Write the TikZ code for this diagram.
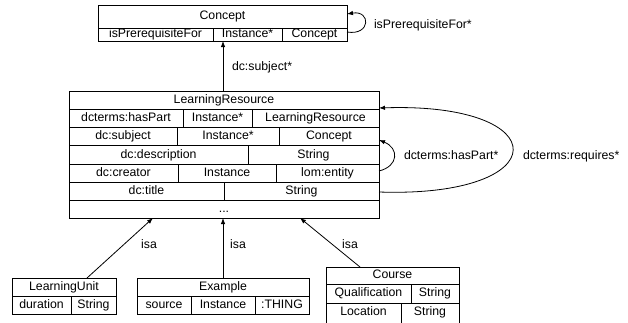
\documentclass[tikz,border=0pt]{standalone}
\usepackage{fontspec}
\setmainfont{Liberation Sans}
\usetikzlibrary{arrows.meta}
\begin{document}
\begin{tikzpicture}[x=1pt,y=-1pt,
  every node/.style={inner sep=0pt,outer sep=0pt,font=\fontsize{12.3}{14}\selectfont,
    text height=8.8pt,text depth=0pt},
  tbl/.style={draw,line width=0.8pt,anchor=north west,text height=,text depth=},
  cell/.style={yshift=1.3pt},
  sep/.style={line width=0.8pt},
  conn/.style={line width=0.8pt,-{Latex[length=6pt,width=4.5pt]}},
  lbl/.style={anchor=west}]
\useasboundingbox (0,0) rectangle (628,322);
\clip (0,0) rectangle (628,322);
% Concept
\node[tbl,minimum width=249pt,minimum height=36pt] (concept) at (98,5) {};
\draw[sep] (98,28) -- (347,28) (213,28) -- (213,41) (282,28) -- (282,41);
\node[cell] (cT) at (222.5,16.5) {Concept};
\node[cell] (c1) at (155.5,34.5) {isPrerequisiteFor};
\node[cell] (c2) at (247.5,34.5) {Instance*};
\node[cell] (c3) at (314.5,34.5) {Concept};
% LearningResource
\node[tbl,minimum width=310pt,minimum height=127pt] (lr) at (69,91) {};
\draw[sep] (69,109) -- (379,109) (69,127) -- (379,127) (69,145.5) -- (379,145.5)
  (69,164) -- (379,164) (69,182) -- (379,182) (69,200) -- (379,200);
\draw[sep] (183,109) -- (183,127) (252,109) -- (252,127)
  (177,127) -- (177,145.5) (279,127) -- (279,145.5)
  (248,145.5) -- (248,164)
  (178,164) -- (178,182) (276,164) -- (276,182)
  (224,182) -- (224,200);
\node[cell] (lrT) at (224,100) {LearningResource};
\node[cell] (r11) at (126,118) {dcterms:hasPart};
\node[cell] (r12) at (217.5,118) {Instance*};
\node[cell] (r13) at (315.5,118) {LearningResource};
\node[cell] (r21) at (123,136.5) {dc:subject};
\node[cell] (r22) at (228,136.5) {Instance*};
\node[cell] (r23) at (329,136.5) {Concept};
\node[cell] (r31) at (158.5,155) {dc:description};
\node[cell] (r32) at (313.5,155) {String};
\node[cell] (r41) at (123.5,173) {dc:creator};
\node[cell] (r42) at (227,173) {Instance};
\node[cell] (r43) at (327.5,173) {lom:entity};
\node[cell] (r51) at (146.5,191) {dc:title};
\node[cell] (r52) at (301.5,191) {String};
\node[cell] (r61) at (224,209) {...};
% LearningUnit
\node[tbl,minimum width=104pt,minimum height=36pt] (lu) at (12,278) {};
\draw[sep] (12,296) -- (116,296) (71,296) -- (71,314);
\node[cell] (luT) at (64,287) {LearningUnit};
\node[cell] (lu1) at (41.5,305) {duration};
\node[cell] (lu2) at (93.5,305) {String};
% Example
\node[tbl,minimum width=172pt,minimum height=36pt] (ex) at (137,278) {};
\draw[sep] (137,296) -- (309,296) (191,296) -- (191,314) (255,296) -- (255,314);
\node[cell] (exT) at (223,287) {Example};
\node[cell] (ex1) at (164,305) {source};
\node[cell] (ex2) at (223,305) {Instance};
\node[cell] (ex3) at (282,305) {:THING};
% Course
\node[tbl,minimum width=133pt,minimum height=70pt] (co) at (326,267) {};
\draw[sep] (326,284) -- (459,284) (326,303) -- (459,303)
  (411,284) -- (411,303) (401,303) -- (401,330);
\node[cell] (coT) at (392.5,275.5) {Course};
\node[cell] (co1) at (368.5,293.5) {Qualification};
\node[cell] (co2) at (435,293.5) {String};
\node[cell] (co3) at (363.5,312.5) {Location};
\node[cell] (co4) at (430,312.5) {String};
% connector endpoints
\coordinate (luA) at (87,278);
\coordinate (lrA) at (153,218);
\coordinate (exA) at (223,278);
\coordinate (lrB) at (223,218);
\coordinate (coA) at (360,267);
\coordinate (lrC) at (300,218);
\coordinate (lrTop) at (223,91);
\coordinate (cBot) at (223,41);
% connectors
\draw[conn] (luA) -- (lrA);
\draw[conn] (exA) -- (lrB);
\draw[conn] (coA) -- (lrC);
\draw[conn] (lrTop) -- (cBot);
\node[lbl] (l1) at (232,66) {dc:subject*};
\node (l2) at (149,244) {isa};
\node (l3) at (238,244) {isa};
\node (l4) at (350,244) {isa};
% self loops
\coordinate (cs) at (347,32);
\coordinate (ce) at (347,14);
\draw[conn] (cs) .. controls (371,36) and (371,10) .. (ce);
\node[lbl] (l5) at (374,24.5) {isPrerequisiteFor*};
\coordinate (hs) at (379,171);
\coordinate (he) at (379,140);
\draw[conn] (hs) .. controls (399,166) and (399,148) .. (he);
\node[lbl] (l6) at (404,155) {dcterms:hasPart*};
\coordinate (qs) at (379,192);
\coordinate (qe) at (379,108);
\draw[conn] (qs) .. controls (557,198) and (557,102) .. (qe);
\node[lbl] (l7) at (523,155) {dcterms:requires*};
\end{tikzpicture}
\end{document}
